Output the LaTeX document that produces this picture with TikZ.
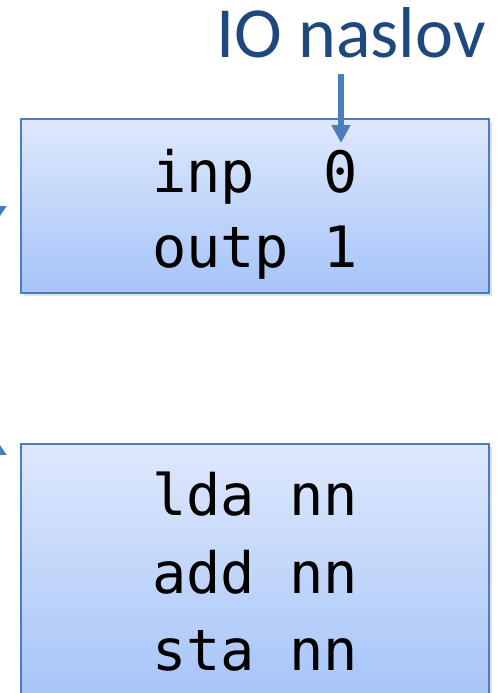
\documentclass[tikz,border=0pt]{standalone}
\usepackage{fontspec}
\setmainfont{Carlito}
\setmonofont{DejaVu Sans Mono}
\usetikzlibrary{arrows.meta,shadows}
\definecolor{boxtop}{RGB}{222,232,252}
\definecolor{boxbot}{RGB}{166,196,248}
\definecolor{edgeblue}{RGB}{74,126,187}
\definecolor{titleblue}{RGB}{31,73,125}
\tikzset{
  membox/.style={draw=edgeblue, line width=2pt, top color=boxtop, bottom color=boxbot,
    drop shadow={opacity=0.25, shadow xshift=3pt, shadow yshift=-3pt}, inner sep=0pt},
  code/.style={font=\fontsize{57}{57}\ttfamily, anchor=base, inner sep=0pt},
  ptr/.style={edgeblue, line width=6.5pt, -{Triangle[length=18pt,width=18pt]}}
}
\begin{document}
\begin{tikzpicture}[x=1pt,y=-1pt]
    \useasboundingbox (0,0) rectangle (500,693);
    \clip (0,0) rectangle (500,693);
    % boxes
    \node[membox, minimum width=468pt, minimum height=174pt] (iobox) at (255,206) {};
    \node[membox, minimum width=468pt, minimum height=256pt] (codebox) at (255,572) {};
    % contents
    \node[code] (inp) at (255,192) {inp\ \ 0};
    \node[code] (outp) at (255,267) {outp 1};
    \foreach \y/\op [count=\i] in {515/lda,593/add,670/sta}
    {\node[code] (op\i) at (255,\y) {\op\ nn};}
    % address label
    \node[font=\fontsize{72}{72}\selectfont, text=titleblue, anchor=base, inner sep=0pt] (title) at (351,57) {IO naslov};
    \coordinate (addrtop) at (341,74);
    \coordinate (addr) at (341,143);
    \draw[ptr] (addrtop) -- (addr);
    % arrows from the left
    \coordinate (fromA) at (-80,250);
    \coordinate (tipA) at (7,206);
    \coordinate (fromB) at (-80,411);
    \coordinate (tipB) at (7,455);
    \draw[ptr] (fromA) -- (tipA);
    \draw[ptr] (fromB) -- (tipB);
\end{tikzpicture}
\end{document}
